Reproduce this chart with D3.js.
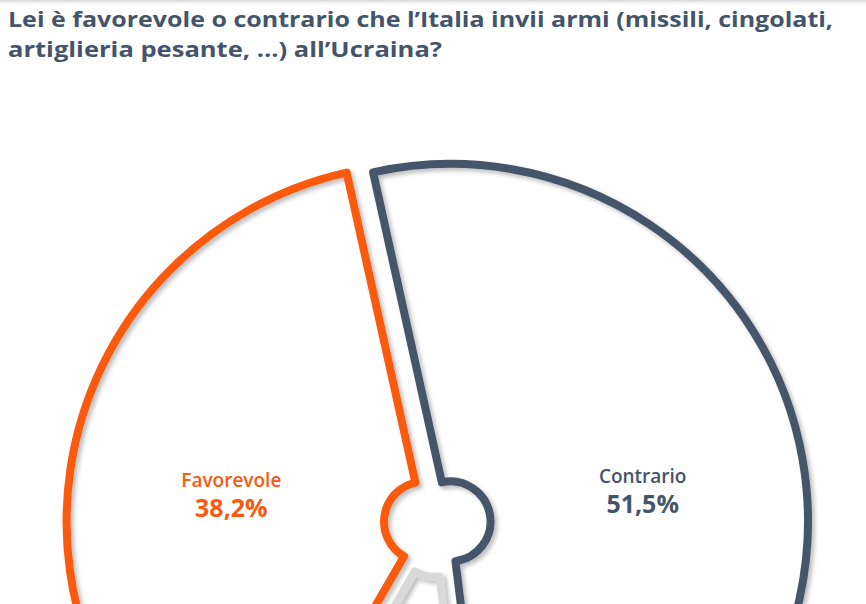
<!DOCTYPE html>
<html>
<head>
<meta charset="utf-8">
<script src="https://cdn.jsdelivr.net/npm/d3@7"></script>
<style>
  html, body { margin: 0; padding: 0; background: #ffffff; }
  svg { display: block; }
</style>
</head>
<body>
<script>
// ---- data ----
const categories = ["Contrario", "Non sa", "Favorevole"];
const values = [51.5, 10.3, 38.2];
const valueLabels = ["51,5%", null, "38,2%"];
const colors = ["#44546A", "#D9D9D9", "#FA5A0F"];
const titleLines = [
  "Lei è favorevole o contrario che l’Italia invii armi (missili, cingolati,",
  "artiglieria pesante, …) all’Ucraina?"
];

// ---- layout ----
const W = 866, H = 604;
const cx = 437.3, cy = 523.7;
const outerR = 357.5, innerR = 40;
const explode = 13.4;
const startDeg = -12.5;

const svg = d3.select("body").append("svg").attr("width", W).attr("height", H);

const defs = svg.append("defs");
const f = defs.append("filter").attr("id", "sh")
  .attr("x", "-10%").attr("y", "-10%").attr("width", "120%").attr("height", "120%");
f.append("feDropShadow").attr("dx", 3).attr("dy", 3).attr("stdDeviation", 2)
  .attr("flood-color", "#000").attr("flood-opacity", 0.25);

const topGrad = defs.append("linearGradient").attr("id", "tg")
  .attr("x1", 0).attr("y1", 0).attr("x2", 0).attr("y2", 1);
topGrad.append("stop").attr("offset", 0).attr("stop-color", "#d8d8d8");
topGrad.append("stop").attr("offset", 1).attr("stop-color", "#ffffff").attr("stop-opacity", 0);
svg.append("rect").attr("x", 0).attr("y", 0).attr("width", W).attr("height", 7).attr("fill", "url(#tg)");

// title
const title = svg.append("g");
const titleWidths = [825, 434];
titleLines.forEach((t, i) => {
  title.append("text")
    .attr("x", 8).attr("y", 27 + i * 30)
    .attr("textLength", titleWidths[i]).attr("lengthAdjust", "spacingAndGlyphs")
    .style("font-family", "'Open Sans', Lato, sans-serif")
    .style("font-weight", 700).style("font-size", "21px")
    .attr("fill", "#44546A")
    .text(t);
});

const data = categories.map((c, i) => ({ name: c, value: values[i], label: valueLabels[i], color: colors[i] }));

const toRad = d => d * Math.PI / 180;
const pie = d3.pie().sort(null).value(d => d.value)
  .startAngle(toRad(startDeg)).endAngle(toRad(startDeg) + 2 * Math.PI);
const arcs = pie(data);

const arc = d3.arc().innerRadius(innerR).outerRadius(outerR);
const labelArc = d3.arc().innerRadius(195).outerRadius(195);

const g = svg.append("g").attr("transform", `translate(${cx},${cy})`);

const slice = g.selectAll("g.slice").data(arcs).join("g")
  .attr("class", "slice")
  .attr("transform", d => {
    const a = (d.startAngle + d.endAngle) / 2;
    return `translate(${explode * Math.sin(a)},${-explode * Math.cos(a)})`;
  });

slice.append("path")
  .attr("d", arc)
  .attr("fill", "none")
  .attr("stroke", d => d.data.color)
  .attr("stroke-width", 8)
  .attr("stroke-linejoin", "round")
  .attr("filter", "url(#sh)");

const lab = slice.filter(d => d.data.label).append("g")
  .attr("transform", d => {
    const c = labelArc.centroid(d);
    return `translate(${c[0]},${c[1]})`;
  });

lab.append("text")
  .attr("text-anchor", "middle").attr("y", -5)
  .style("font-family", "'Open Sans', Lato, sans-serif")
  .style("font-size", "19px").style("font-weight", 600)
  .attr("fill", d => d.data.color)
  .text(d => d.data.name);

lab.append("text")
  .attr("text-anchor", "middle").attr("y", 25)
  .style("font-family", "'Open Sans', Lato, sans-serif")
  .style("font-size", "25px").style("font-weight", 700)
  .attr("fill", d => d.data.color)
  .text(d => d.data.label);
</script>
</body>
</html>
